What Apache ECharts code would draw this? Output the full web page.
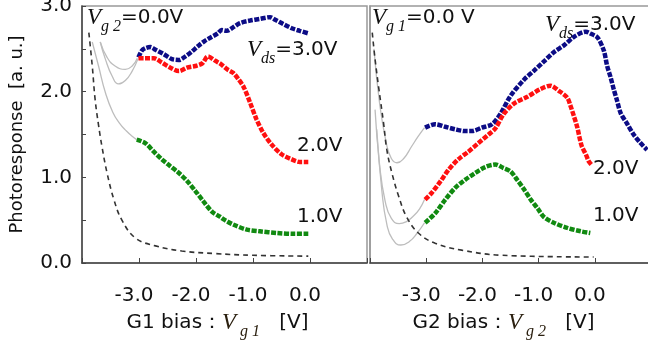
<!DOCTYPE html>
<html>
<head>
<meta charset="utf-8">
<script src="https://cdn.jsdelivr.net/npm/echarts@6/dist/echarts.min.js"></script>
<style>
  html, body { margin: 0; padding: 0; background: #fff; }
  #chart { width: 648px; height: 342px; }
</style>
</head>
<body>
<div id="chart"></div>
<script>
// G1 sweep (Vg2 = 0.0 V): [Vg1, photoresponse]
const g1Vds3 = [[-3.01,2.40],[-2.95,2.48],[-2.88,2.51],[-2.80,2.52],[-2.71,2.49],[-2.57,2.44],[-2.42,2.38],[-2.30,2.37],[-2.19,2.41],[-2.07,2.47],[-1.95,2.54],[-1.85,2.59],[-1.75,2.63],[-1.62,2.68],[-1.55,2.72],[-1.46,2.71],[-1.35,2.75],[-1.23,2.80],[-1.05,2.83],[-0.88,2.85],[-0.70,2.87],[-0.61,2.84],[-0.47,2.79],[-0.32,2.74],[-0.18,2.71],[-0.03,2.68]];
const g1Vds2 = [[-3.01,2.39],[-2.89,2.39],[-2.74,2.39],[-2.60,2.34],[-2.45,2.28],[-2.30,2.24],[-2.16,2.28],[-2.01,2.30],[-1.89,2.33],[-1.79,2.41],[-1.66,2.36],[-1.58,2.33],[-1.45,2.26],[-1.35,2.22],[-1.26,2.15],[-1.16,2.05],[-1.05,1.87],[-0.94,1.68],[-0.82,1.52],[-0.67,1.38],[-0.50,1.27],[-0.32,1.21],[-0.18,1.18],[-0.03,1.18]];
const g1Vds1 = [[-3.04,1.44],[-2.89,1.40],[-2.74,1.30],[-2.60,1.21],[-2.45,1.13],[-2.30,1.05],[-2.16,0.96],[-2.01,0.84],[-1.87,0.72],[-1.72,0.60],[-1.58,0.54],[-1.49,0.50],[-1.35,0.45],[-1.11,0.39],[-0.88,0.37],[-0.58,0.35],[-0.29,0.34],[-0.03,0.34]];
const g1Dark = [[-3.88,2.69],[-3.82,2.30],[-3.77,1.91],[-3.71,1.61],[-3.65,1.36],[-3.56,1.05],[-3.44,0.74],[-3.30,0.50],[-3.06,0.29],[-2.71,0.20],[-2.25,0.14],[-1.66,0.11],[-1.00,0.09],[-0.03,0.08]];
const g1Fit3 = [[-3.68,2.58],[-3.56,2.40],[-3.42,2.30],[-3.24,2.26],[-3.12,2.30],[-3.03,2.39]];
const g1Fit2 = [[-3.68,2.58],[-3.59,2.38],[-3.47,2.18],[-3.36,2.09],[-3.24,2.13],[-3.12,2.24],[-3.02,2.38]];
const g1Fit1 = [[-3.82,2.58],[-3.71,2.30],[-3.59,1.99],[-3.46,1.76],[-3.34,1.63],[-3.22,1.54],[-3.12,1.48],[-3.04,1.44]];

// G2 sweep (Vg1 = 0.0 V): [Vg2, photoresponse]
const g2Vds3 = [[-3.02,1.58],[-2.84,1.62],[-2.66,1.59],[-2.48,1.56],[-2.31,1.54],[-2.19,1.54],[-2.01,1.58],[-1.83,1.62],[-1.68,1.74],[-1.50,1.95],[-1.26,2.14],[-1.09,2.24],[-0.91,2.35],[-0.73,2.46],[-0.55,2.54],[-0.37,2.64],[-0.16,2.70],[-0.08,2.68],[0.05,2.63],[0.16,2.48],[0.22,2.30],[0.28,2.17],[0.34,2.02],[0.39,1.91],[0.46,1.75],[0.58,1.62],[0.69,1.50],[0.80,1.41],[0.93,1.32]];
const g2Vds2 = [[-3.02,0.74],[-2.90,0.82],[-2.75,0.95],[-2.60,1.09],[-2.43,1.21],[-2.25,1.30],[-2.07,1.40],[-1.89,1.50],[-1.77,1.57],[-1.62,1.74],[-1.44,1.86],[-1.20,1.94],[-0.97,2.03],[-0.79,2.07],[-0.64,2.01],[-0.49,1.93],[-0.43,1.83],[-0.37,1.71],[-0.31,1.58],[-0.27,1.46],[-0.23,1.36],[-0.16,1.27],[-0.11,1.19],[-0.05,1.14]];
const g2Vds1 = [[-3.02,0.47],[-2.84,0.58],[-2.66,0.74],[-2.48,0.88],[-2.31,0.97],[-2.13,1.05],[-1.95,1.12],[-1.77,1.15],[-1.63,1.11],[-1.50,1.07],[-1.38,0.97],[-1.26,0.86],[-1.14,0.74],[-1.02,0.64],[-0.91,0.54],[-0.73,0.47],[-0.49,0.41],[-0.25,0.37],[-0.08,0.35]];
const g2Dark = [[-3.96,2.69],[-3.91,2.38],[-3.85,2.07],[-3.76,1.64],[-3.70,1.32],[-3.61,1.05],[-3.49,0.78],[-3.35,0.54],[-3.14,0.35],[-2.84,0.23],[-2.37,0.15],[-1.65,0.09],[-0.02,0.07]];
const g2Fit3 = [[-3.93,2.50],[-3.83,1.87],[-3.71,1.40],[-3.62,1.22],[-3.52,1.17],[-3.40,1.22],[-3.26,1.36],[-3.14,1.48],[-3.03,1.58]];
const g2Fit2 = [[-3.91,1.79],[-3.83,1.15],[-3.73,0.72],[-3.62,0.52],[-3.48,0.46],[-3.36,0.48],[-3.24,0.54],[-3.12,0.63],[-3.03,0.74]];
const g2Fit1 = [[-3.88,1.56],[-3.79,0.85],[-3.70,0.45],[-3.60,0.28],[-3.45,0.21],[-3.30,0.25],[-3.16,0.35],[-3.03,0.47]];

const xTicks = [-3, -2, -1, 0];
const yTicks = [0, 1, 2, 3];

const FONT = 'DejaVu Sans';
const SERIF = 'Liberation Serif';
const VCOL = '#2b2010';

// subscript: extra top padding pushes the small text below the line centre
const richV = {
  v: { fontFamily: SERIF, fontStyle: 'italic', fontSize: 23, lineHeight: 24, color: VCOL },
  s: { fontFamily: SERIF, fontStyle: 'italic', fontSize: 16, lineHeight: 16, padding: [18, 0, 0, 0], color: VCOL },
  t: { fontFamily: FONT, fontSize: 20, lineHeight: 24, color: '#111' }
};

const xAxisBase = (gi, nameText) => ({
  type: 'value', gridIndex: gi, min: -4, max: 1, interval: 1,
  axisLine: { onZero: false, lineStyle: { color: '#444', width: 1.5 } },
  axisTick: { inside: true, length: 5, lineStyle: { color: '#444' } },
  splitLine: { show: false },
  axisLabel: {
    fontFamily: FONT, fontSize: 20, color: '#111', margin: 23, padding: [0, 10, 0, 0],
    formatter: v => xTicks.includes(v) ? v.toFixed(1) : ''
  },
  name: nameText, nameLocation: 'middle', nameGap: 48, nameMoveOverlap: false,
  nameTextStyle: { rich: richV, padding: [0, 14, 0, 0] }
});

const line = (xi, data, color) => ({
  type: 'line', xAxisIndex: xi, yAxisIndex: xi, data, smooth: 0.3, symbol: 'none', z: 5,
  lineStyle: { color, width: 4.5, type: [5, 1.5] }
});
const fit = (xi, data) => ({
  type: 'line', xAxisIndex: xi, yAxisIndex: xi, data, smooth: 0.5, symbol: 'none', z: 2,
  lineStyle: { color: '#bdbdbd', width: 1.3 }
});
const dark = (xi, data) => ({
  type: 'line', xAxisIndex: xi, yAxisIndex: xi, data, smooth: 0.4, symbol: 'none', z: 3,
  lineStyle: { color: '#333', width: 1.6, type: [5, 4] }
});

const txt = (left, top, text) => ({
  type: 'text', left, top,
  style: { text, rich: richV, font: '20px ' + FONT, fill: '#111' }
});

const option = {
  animation: false,
  backgroundColor: '#fff',
  grid: [
    { left: 82, right: 281, top: 6, bottom: 79, outerBoundsMode: 'none', show: true, borderColor: '#999', borderWidth: 1.5 },
    { left: 370, right: -3, top: 6, bottom: 79, outerBoundsMode: 'none', show: true, borderColor: '#999', borderWidth: 1.5 }
  ],
  xAxis: [
    xAxisBase(0, '{t|G1 bias：}{v|V}{s| g 1}{t|   [V]}'),
    xAxisBase(1, '{t|G2 bias：}{v|V}{s| g 2}{t|   [V]}')
  ],
  yAxis: [
    {
      type: 'value', gridIndex: 0, min: 0, max: 3, interval: 0.5,
      axisLine: { onZero: false, lineStyle: { color: '#444', width: 1.5 } },
      axisTick: { inside: true, length: 4, lineStyle: { color: '#444' } },
      splitLine: { show: false },
      axisLabel: {
        fontFamily: FONT, fontSize: 20, color: '#111', margin: 10,
        formatter: v => yTicks.includes(v) ? v.toFixed(1) : ''
      },
      name: 'Photoresponse  [a. u.]', nameLocation: 'middle', nameGap: 50, nameRotate: 90,
      nameTextStyle: { fontFamily: FONT, fontSize: 18, color: '#111', padding: [0, 0, 6, 0] }
    },
    {
      type: 'value', gridIndex: 1, min: 0, max: 3, interval: 0.5,
      axisLine: { onZero: false, lineStyle: { color: '#999', width: 1.5 } },
      axisTick: { show: false }, axisLabel: { show: false }, splitLine: { show: false }
    }
  ],
  series: [
    fit(0, g1Fit3), fit(0, g1Fit2), fit(0, g1Fit1), dark(0, g1Dark),
    line(0, g1Vds3, '#0c0c86'), line(0, g1Vds2, '#ff1010'), line(0, g1Vds1, '#118a11'),
    fit(1, g2Fit3), fit(1, g2Fit2), fit(1, g2Fit1), dark(1, g2Dark),
    line(1, g2Vds3, '#0c0c86'), line(1, g2Vds2, '#ff1010'), line(1, g2Vds1, '#118a11')
  ],
  graphic: [
    txt(87, 1, '{v|V}{s|g 2}{t|=0.0V}'),
    txt(247, 33, '{v|V}{s|ds}{t|=3.0V}'),
    txt(297, 136, '{t|2.0V}'),
    txt(297, 207, '{t|1.0V}'),
    txt(372, 1, '{v|V}{s|g 1}{t|=0.0 V}'),
    txt(545, 8, '{v|V}{s|ds}{t|=3.0V}'),
    txt(593, 159, '{t|2.0V}'),
    txt(593, 206, '{t|1.0V}')
  ]
};

const chart = echarts.init(document.getElementById('chart'));
chart.setOption(option);
</script>
</body>
</html>
